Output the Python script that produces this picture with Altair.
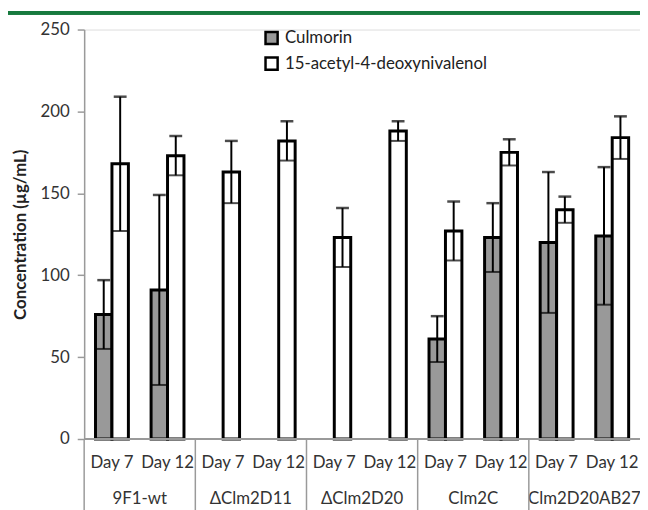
import altair as alt
import pandas as pd

strains = ["9F1-wt", "ΔClm2D11", "ΔClm2D20", "Clm2C", "Clm2D20AB27"]
days = ["Day 7", "Day 12"]
series_names = ["Culmorin", "15-acetyl-4-deoxynivalenol"]

# values per (strain, day) in order 9F1-wt D7, D12, ΔClm2D11 D7, D12, ...
culmorin = [76, 91, None, None, None, None, 61, 123, 120, 124]
culmorin_err = [21, 58, None, None, None, None, 14, 21, 43, 42]
adon = [168, 173, 163, 182, 123, 188, 127, 175, 140, 184]
adon_err = [41, 12, 19, 12, 18, 6, 18, 8, 8, 13]

rows = []
slots = []
for i, s in enumerate(strains):
    for j, d in enumerate(days):
        k = i * 2 + j
        slot = f"{s} {d}"
        slots.append(slot)
        for name, vals, errs in ((series_names[0], culmorin, culmorin_err),
                                 (series_names[1], adon, adon_err)):
            if vals[k] is not None:
                rows.append({"slot": slot, "strain": s, "day": d, "series": name,
                             "value": vals[k], "low": vals[k] - errs[k],
                             "high": vals[k] + errs[k]})
df = pd.DataFrame(rows)
labels = pd.DataFrame({"slot": slots,
                       "strain": [s for s in strains for _ in days],
                       "day": [d for _ in strains for d in days]})
groups = labels[labels["day"] == days[0]]

FONT = "Lato"
W, H = 562, 414

xs = alt.Scale(domain=slots, paddingInner=0, paddingOuter=0)
xo = alt.Scale(domain=series_names, paddingInner=0, paddingOuter=0.69)
X = alt.X("slot:N", scale=xs, axis=None)
XO = alt.XOffset("series:N", scale=xo)

base = alt.Chart(df)

bars = base.mark_bar(stroke="black", strokeWidth=3).encode(
    x=X, xOffset=XO,
    y=alt.Y("value:Q", scale=alt.Scale(domain=[0, 250], nice=False),
            axis=alt.Axis(values=[0, 50, 100, 150, 200, 250], grid=False,
                          domainColor="#9a9a9a", domainWidth=1.5,
                          tickColor="#9a9a9a", tickSize=7, tickWidth=1.5,
                          labelFont=FONT, labelFontSize=17, labelColor="#333333",
                          labelPadding=8,
                          title="Concentration (µg/mL)", titleFont=FONT,
                          titleFontSize=17, titleFontWeight="bold",
                          titleColor="#222222", titleX=-64, titleY=H / 2,
                          titleAngle=-90, titleAlign="center",
                          titleBaseline="middle")),
    fill=alt.Fill("series:N",
                  scale=alt.Scale(domain=series_names, range=["#999999", "#ffffff"]),
                  legend=alt.Legend(title=None, orient="none", legendX=181, legendY=0,
                                    symbolType="square", symbolSize=150,
                                    symbolStrokeColor="black", symbolStrokeWidth=2.5,
                                    labelFont=FONT, labelFontSize=17,
                                    labelColor="#222222", rowPadding=3,
                                    labelOffset=5, labelLimit=500)),
)

err = base.mark_rule(color="black", strokeWidth=2).encode(
    x=X, xOffset=XO, y="low:Q", y2="high:Q")
cap_top = base.mark_tick(orient="horizontal", color="black", size=13,
                         thickness=2.5).encode(x=X, xOffset=XO, y="high:Q")
cap_low = base.mark_tick(orient="horizontal", color="black", size=16,
                         thickness=2).encode(x=X, xOffset=XO, y="low:Q")

xdomain = alt.Chart(labels).mark_rule(color="#9a9a9a", strokeWidth=1.5).encode(
    x=alt.value(0), x2=alt.value(W + 10), y=alt.value(H))

day_text = alt.Chart(labels).mark_text(font=FONT, fontSize=17, color="#333333",
                                        baseline="middle").encode(
    x=X, y=alt.value(H + 24), text="day:N")
strain_text = alt.Chart(groups).mark_text(font=FONT, fontSize=17, color="#333333",
                                           baseline="middle").encode(
    x=alt.X("slot:N", scale=xs, axis=None, bandPosition=1),
    y=alt.value(H + 61), text="strain:N")
dividers = alt.Chart(groups).mark_rule(color="#9a9a9a", strokeWidth=1.5).encode(
    x=alt.X("slot:N", scale=xs, axis=None, bandPosition=0),
    y=alt.value(H), y2=alt.value(H + 75))

green = alt.Chart(labels).mark_rule(color="#177a3e", strokeWidth=3).encode(
    x=alt.value(-80), x2=alt.value(W + 10), y=alt.value(-17))

chart = alt.layer(bars, err, cap_top, cap_low, xdomain, day_text, strain_text,
                  dividers, green).properties(
    width=W, height=H,
    autosize=alt.AutoSizeParams(type="none"),
    padding={"left": 77, "top": 19, "right": 0, "bottom": 69},
).configure_view(stroke=None).configure(background="white")

chart.save("out.html", embed_options={"renderer": "svg", "actions": False})
